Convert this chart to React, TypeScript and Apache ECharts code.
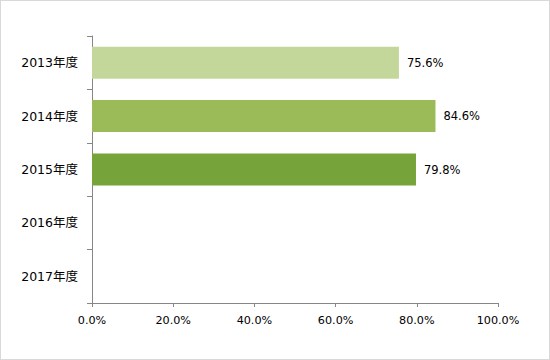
import React, { useEffect, useRef } from "react";
import * as echarts from "echarts";

const categories = ["2013年度", "2014年度", "2015年度", "2016年度", "2017年度"];
const values: (number | null)[] = [75.6, 84.6, 79.8, null, null];
const barColors = ["#c4d79b", "#9bbb59", "#77a33b", "#77a33b", "#77a33b"];
const xTicks = [0, 20, 40, 60, 80, 100];

const FONT = "'DejaVu Sans', 'Noto Sans CJK JP', sans-serif";

export default function App() {
  const ref = useRef<HTMLDivElement>(null);
  useEffect(() => {
    if (!ref.current) return;
    const chart = echarts.init(ref.current, undefined, { renderer: "svg" });
    chart.setOption({
      animation: false,
      grid: { left: 92, right: 52, top: 36, bottom: 57, containLabel: false },
      xAxis: {
        type: "value",
        min: xTicks[0],
        max: xTicks[xTicks.length - 1],
        interval: 20,
        axisLine: { show: true, lineStyle: { color: "#868686", width: 1 } },
        axisTick: { show: true, length: 4, lineStyle: { color: "#868686" } },
        splitLine: { show: false },
        axisLabel: {
          margin: 12,
          color: "#000",
          fontSize: 11.2,
          fontFamily: FONT,
          formatter: (v: number) => v.toFixed(1) + "%",
        },
      },
      yAxis: {
        type: "category",
        data: categories,
        inverse: true,
        axisLine: { show: true, lineStyle: { color: "#868686", width: 1 } },
        axisTick: { show: true, length: 5, lineStyle: { color: "#868686" } },
        axisLabel: { margin: 14, color: "#000", fontSize: 12.5, fontFamily: FONT },
      },
      series: [
        {
          type: "bar",
          barCategoryGap: "40%",
          data: values.map((v, i) => ({
            value: v,
            itemStyle: { color: barColors[i] },
          })),
          label: {
            show: true,
            position: "right",
            distance: 8,
            color: "#000",
            fontSize: 11.5,
            fontFamily: FONT,
            formatter: (p: any) => (p.value == null ? "" : Number(p.value).toFixed(1) + "%"),
          },
        },
      ],
    });
    return () => chart.dispose();
  }, []);
  return (
    <div
      style={{
        position: "absolute",
        left: 0,
        top: 0,
        width: 550,
        height: 360,
        boxSizing: "border-box",
        border: "1px solid #d9d9d9",
        background: "#fff",
      }}
    >
      <div ref={ref} style={{ position: "absolute", left: -1, top: -1, width: 550, height: 360 }} />
    </div>
  );
}
